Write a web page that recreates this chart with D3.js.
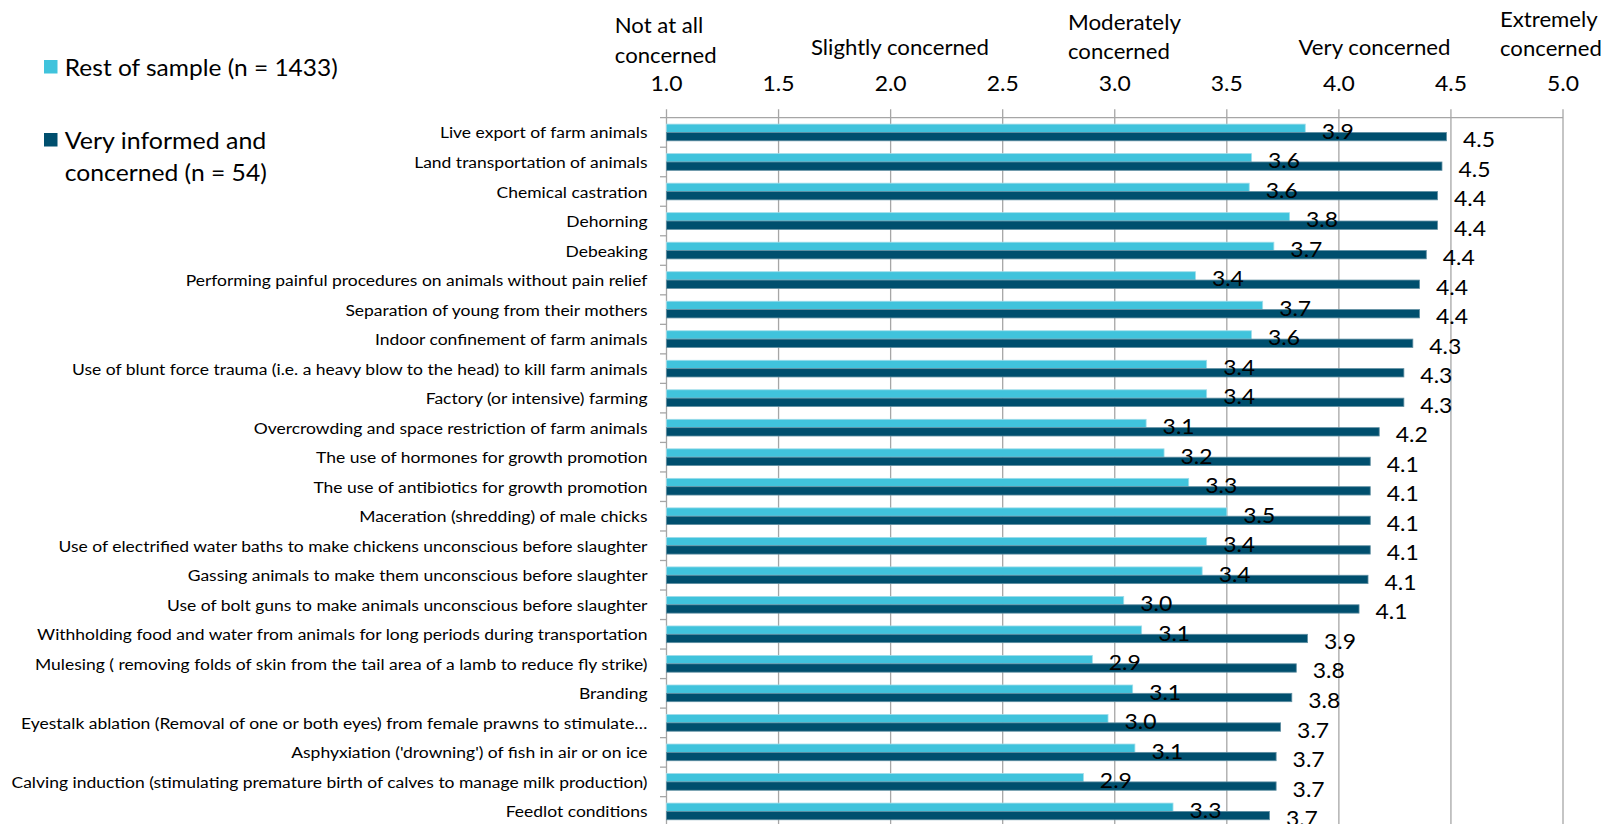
<!DOCTYPE html>
<html>
<head>
<meta charset="utf-8">
<script src="https://cdn.jsdelivr.net/npm/d3@7"></script>
<style>
  html, body { margin: 0; padding: 0; background: #ffffff; overflow: hidden; }
  svg { display: block; }
  text { font-family: Lato, "Open Sans", sans-serif; fill: #000; }
</style>
</head>
<body>
<svg id="chart" width="1612" height="824"></svg>
<script>
// ---------------- DATA ----------------
const categories = [
  "Live export of farm animals",
  "Land transportation of animals",
  "Chemical castration",
  "Dehorning",
  "Debeaking",
  "Performing painful procedures on animals without pain relief",
  "Separation of young from their mothers",
  "Indoor confinement of farm animals",
  "Use of blunt force trauma (i.e. a heavy blow to the head) to kill farm animals",
  "Factory (or intensive) farming",
  "Overcrowding and space restriction of farm animals",
  "The use of hormones for growth promotion",
  "The use of antibiotics for growth promotion",
  "Maceration (shredding) of male chicks",
  "Use of electrified water baths to make chickens unconscious before slaughter",
  "Gassing animals to make them unconscious before slaughter",
  "Use of bolt guns to make animals unconscious before slaughter",
  "Withholding food and water from animals for long periods during transportation",
  "Mulesing ( removing folds of skin from the tail area of a lamb to reduce fly strike)",
  "Branding",
  "Eyestalk ablation (Removal of one or both eyes) from female prawns to stimulate…",
  "Asphyxiation ('drowning') of fish in air or on ice",
  "Calving induction (stimulating premature birth of calves to manage milk production)",
  "Feedlot conditions"
];
const seriesNames = ["Rest of sample (n = 1433)", "Very informed and concerned (n = 54)"];
const restOfSample = [3.85, 3.61, 3.60, 3.78, 3.71, 3.36, 3.66, 3.61, 3.41, 3.41, 3.14, 3.22,
                      3.33, 3.50, 3.41, 3.39, 3.04, 3.12, 2.90, 3.08, 2.97, 3.09, 2.86, 3.26];
const veryInformed = [4.48, 4.46, 4.44, 4.44, 4.39, 4.36, 4.36, 4.33, 4.29, 4.29, 4.18, 4.14,
                      4.14, 4.14, 4.14, 4.13, 4.09, 3.86, 3.81, 3.79, 3.74, 3.72, 3.72, 3.69];
const restLabels = ["3.9","3.6","3.6","3.8","3.7","3.4","3.7","3.6","3.4","3.4","3.1","3.2",
                    "3.3","3.5","3.4","3.4","3.0","3.1","2.9","3.1","3.0","3.1","2.9","3.3"];
const informedLabels = ["4.5","4.5","4.4","4.4","4.4","4.4","4.4","4.3","4.3","4.3","4.2","4.1",
                        "4.1","4.1","4.1","4.1","4.1","3.9","3.8","3.8","3.7","3.7","3.7","3.7"];
const tickValues = [1.0, 1.5, 2.0, 2.5, 3.0, 3.5, 4.0, 4.5, 5.0];
const tickLabels = ["1.0", "1.5", "2.0", "2.5", "3.0", "3.5", "4.0", "4.5", "5.0"];
const scaleAnchors = [
  ["Not at all", "concerned"],
  ["Slightly concerned"],
  ["Moderately", "concerned"],
  ["Very concerned"],
  ["Extremely", "concerned"]
];
const legendLines = [["Rest of sample (n = 1433)"], ["Very informed and", "concerned (n = 54)"]];
const colors = ["#40C3DC", "#004F6E"];

// ---------------- LAYOUT ----------------
const svg = d3.select("#chart");
const plotLeft = 666.5, plotRight = 1563, plotTop = 117.7, rowStep = 29.52;

const x = d3.scaleLinear().domain([1, 5]).range([plotLeft, plotRight]);
const y = d3.scaleBand().domain(categories)
  .range([plotTop, plotTop + rowStep * categories.length]).paddingInner(0).paddingOuter(0);
const ySub = d3.scaleBand().domain(seriesNames).range([0, y.bandwidth()])
  .paddingInner(0).paddingOuter(0.768);
const plotBottom = plotTop + rowStep * categories.length;

// width helpers (the reference font is narrower than the installed ones)
function squeezeBy(sel, factor) {
  sel.each(function () {
    const w = this.getComputedTextLength();
    d3.select(this).attr("textLength", w * factor).attr("lengthAdjust", "spacingAndGlyphs");
  });
}
function fitTo(sel, target) {
  sel.attr("textLength", target).attr("lengthAdjust", "spacingAndGlyphs");
}

// gridlines + top ticks
const grid = svg.append("g");
grid.selectAll("line.v").data(tickValues).enter().append("line")
  .attr("x1", d => x(d)).attr("x2", d => x(d))
  .attr("y1", plotTop - 8.5).attr("y2", plotBottom + 10)
  .attr("stroke", "#A6A6A6").attr("stroke-width", 1.3);
grid.append("line")
  .attr("x1", plotLeft - 6.5).attr("x2", plotRight)
  .attr("y1", plotTop).attr("y2", plotTop)
  .attr("stroke", "#A6A6A6").attr("stroke-width", 1.3);
grid.selectAll("line.c").data(categories).enter().append("line")
  .attr("x1", plotLeft - 6.5).attr("x2", plotLeft)
  .attr("y1", d => y(d) + y.bandwidth()).attr("y2", d => y(d) + y.bandwidth())
  .attr("stroke", "#A6A6A6").attr("stroke-width", 1.3);

// bars
const seriesData = [restOfSample, veryInformed];
const seriesLabels = [restLabels, informedLabels];
const strokeCols = ["#9FDDEA", "#5F8EA1"];
seriesData.forEach((vals, si) => {
  svg.append("g").selectAll("rect").data(categories).enter().append("rect")
    .attr("x", x(1))
    .attr("y", d => y(d) + ySub(seriesNames[si]))
    .attr("width", (d, i) => x(vals[i]) - x(1))
    .attr("height", ySub.bandwidth())
    .attr("fill", colors[si])
    .attr("stroke", strokeCols[si]).attr("stroke-width", 0.8);
});

// value labels
seriesData.forEach((vals, si) => {
  const t = svg.append("g").selectAll("text").data(categories).enter().append("text")
    .attr("x", (d, i) => x(vals[i]) + 16.5)
    .attr("y", d => y(d) + ySub(seriesNames[si]) + ySub.bandwidth() / 2 + 2)
    .attr("dominant-baseline", "central")
    .style("font-size", "22px")
    .text((d, i) => seriesLabels[si][i]);
  fitTo(t, 32);
});

// category labels
const catTexts = svg.append("g").selectAll("text").data(categories).enter().append("text")
  .attr("x", 647.5)
  .attr("y", d => y(d) + y.bandwidth() / 2)
  .attr("text-anchor", "end")
  .attr("dominant-baseline", "central")
  .style("font-size", "14.8px")
  .text(d => d);
let maxW = 0;
catTexts.each(function () { maxW = Math.max(maxW, this.getComputedTextLength()); });
squeezeBy(catTexts, 636 / maxW);

// tick labels (top)
const tickTexts = svg.append("g").selectAll("text").data(tickValues).enter().append("text")
  .attr("x", d => x(d)).attr("y", 82)
  .attr("text-anchor", "middle").attr("dominant-baseline", "central")
  .style("font-size", "22px")
  .text((d, i) => tickLabels[i]);
fitTo(tickTexts, 32);

// scale anchor captions
const anchorPos = [
  { x: [614.8, 614.8], ys: [24.7, 54.5], w: [88.4, 101.8], anchor: "start" },
  { x: [811], ys: [46.3], w: [178], anchor: "start" },
  { x: [1068, 1068], ys: [21.6, 50.4], w: [113, 101.8], anchor: "start" },
  { x: [1298.5], ys: [46.3], w: [152], anchor: "start" },
  { x: [1500, 1500], ys: [18.5, 47.3], w: [97.7, 101.8], anchor: "start" }
];
const capG = svg.append("g");
scaleAnchors.forEach((lines, i) => {
  lines.forEach((ln, j) => {
    const t = capG.append("text")
      .attr("x", anchorPos[i].x[j]).attr("y", anchorPos[i].ys[j])
      .attr("text-anchor", anchorPos[i].anchor).attr("dominant-baseline", "central")
      .style("font-size", "21px").text(ln);
    fitTo(t, anchorPos[i].w[j]);
  });
});

// legend
const legG = svg.append("g");
const legendY = [[66.8], [139.8, 171.7]];
const legendW = [[273], [201.5, 202]];
seriesNames.forEach((s, i) => {
  legG.append("rect")
    .attr("x", 44).attr("y", legendY[i][0] - 6.8)
    .attr("width", 13.5).attr("height", 13.5)
    .attr("fill", colors[i]);
  legendLines[i].forEach((ln, j) => {
    const t = legG.append("text")
      .attr("x", 64.8).attr("y", legendY[i][j])
      .attr("dominant-baseline", "central")
      .style("font-size", "23.6px").text(ln);
    fitTo(t, legendW[i][j]);
  });
});
</script>
</body>
</html>
